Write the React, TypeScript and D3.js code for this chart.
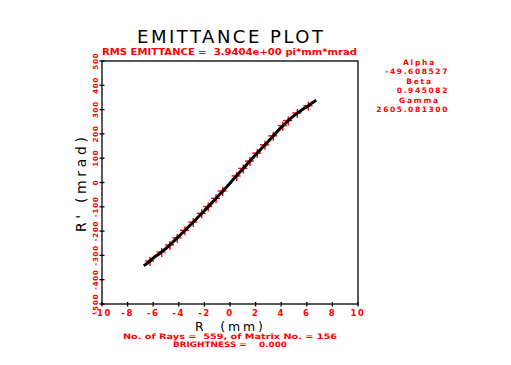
import React from "react";
import * as d3 from "d3";

// Ray distribution (R in mm, R' in mrad) read along the plotted band
const rayR = [-6.64, -6.3, -6.0, -5.5, -5.0, -4.5, -4.0, -3.5, -3.0, -2.5, -2.0, -1.5, -1.0, -0.5, 0, 0.5, 1.0, 1.5, 2.0, 2.5, 3.0, 3.5, 4.0, 4.5, 5.0, 5.5, 6.0, 6.3, 6.64];
const rayRp = [-339, -325, -311, -292, -271, -247, -222, -196, -170, -143, -116, -88, -60, -32, -3, 27, 56, 85, 114, 142, 170, 199, 227, 252, 275, 294, 312, 323, 335];

// Red marked rays
const markR = [-6.25, -5.34, -4.69, -4.12, -3.52, -2.87, -2.21, -1.7, -1.09, -0.57, 0.52, 1.04, 1.56, 2.13, 2.73, 3.38, 4.12, 4.55, 5.26, 6.12];
const markRp = [-323, -286, -257, -228, -197, -163, -127, -99, -65, -35, 27, 58, 88, 121, 155, 192, 234, 255, 286, 316];

const xTicks = [-10, -8, -6, -4, -2, 0, 2, 4, 6, 8, 10];
const yTicks = [-500, -400, -300, -200, -100, 0, 100, 200, 300, 400, 500];

const title = "EMITTANCE PLOT";
const subtitle = "RMS EMITTANCE =  3.9404e+00 pi*mm*mrad";
const twiss = [
  { label: "Alpha", value: "-49.608527" },
  { label: "Beta", value: "0.945082" },
  { label: "Gamma", value: "2605.081300" },
];
const footer1 = "No. of Rays =  559, of Matrix No. = 156";
const footer2 = "BRIGHTNESS =    0.000";

const RED = "#ff0000";
const FONT = "DejaVu Sans, sans-serif";

export default function App() {
  const left = 102, right = 358, top = 61, bottom = 304;
  const x = d3.scaleLinear().domain([-10, 10]).range([left, right]);
  const y = d3.scaleLinear().domain([-500, 500]).range([bottom, top]);
  const line = d3
    .line<number>()
    .x((_, i) => x(rayR[i]))
    .y((d) => y(d))
    .curve(d3.curveCatmullRom);

  return (
    <svg
      width={511}
      height={365}
      style={{ position: "absolute", left: 0, top: 0, background: "#fff" }}
      fontFamily={FONT}
    >
      <rect x={0} y={0} width={511} height={365} fill="#fff" />
      {/* title */}
      <text x={137} y={43} fontSize={18} textLength={186} lengthAdjust="spacing" fill="#000">
        {title}
      </text>
      <text x={102} y={55} fontSize={9.5} fontWeight="bold" textLength={255} lengthAdjust="spacingAndGlyphs" fill={RED} style={{ whiteSpace: "pre" }}>
        {subtitle}
      </text>

      {/* frame */}
      <rect x={left} y={top} width={right - left} height={bottom - top} fill="none" stroke="#000" strokeWidth={1.3} />

      {/* x ticks */}
      {xTicks.map((t) => (
        <g key={"x" + t}>
          <line x1={x(t)} x2={x(t)} y1={bottom - 2} y2={bottom + 2.5} stroke="#000" strokeWidth={1.3} />
          <text x={x(t)} y={316} fontSize={8.5} fontWeight="bold" textAnchor="middle" fill={RED} letterSpacing={1.5}>
            {t}
          </text>
        </g>
      ))}
      {/* y ticks */}
      {yTicks.map((t) => (
        <g key={"y" + t}>
          <line x1={left - 2.5} x2={left + 2.5} y1={y(t)} y2={y(t)} stroke="#000" strokeWidth={1.3} />
          <text
            transform={`translate(97.5,${y(t)}) rotate(-90)`}
            fontSize={7}
            fontWeight="bold"
            textAnchor="middle"
            fill={RED}
            letterSpacing={0.8}
          >
            {t}
          </text>
        </g>
      ))}

      {/* red markers */}
      {markR.map((r, i) => (
        <g key={"m" + i} stroke={RED} strokeWidth={1.4}>
          <line x1={x(r) - 5} x2={x(r) + 4} y1={y(markRp[i])} y2={y(markRp[i])} />
          <line x1={x(r)} x2={x(r)} y1={y(markRp[i]) - 4} y2={y(markRp[i]) + 5} />
        </g>
      ))}
      {/* ray band */}
      <path d={line(rayRp) || ""} fill="none" stroke="#000" strokeWidth={3} strokeLinecap="square" />

      {/* axis labels */}
      <text transform="translate(86,184.5) rotate(-90)" fontSize={14} textAnchor="middle" textLength={95} lengthAdjust="spacing" fill="#000">
        R' (mrad)
      </text>
      <text x={229} y={330.5} fontSize={12.5} textAnchor="middle" textLength={68} lengthAdjust="spacing" fill="#000" style={{ whiteSpace: "pre" }}>
        {"R  (mm)"}
      </text>
      <text x={123} y={339} fontSize={7.5} fontWeight="bold" textLength={214} lengthAdjust="spacingAndGlyphs" fill={RED} style={{ whiteSpace: "pre" }}>
        {footer1}
      </text>
      <text x={173} y={347} fontSize={7.5} fontWeight="bold" textLength={114} lengthAdjust="spacingAndGlyphs" fill={RED} style={{ whiteSpace: "pre" }}>
        {footer2}
      </text>

      {/* twiss parameters */}
      {twiss.map((p, i) => (
        <g key={p.label}>
          <text x={419.5} y={64.5 + i * 19} fontSize={7.5} fontWeight="bold" textAnchor="middle" letterSpacing={1.8} fill={RED}>
            {p.label}
          </text>
          <text x={449} y={74 + i * 19} fontSize={7.5} fontWeight="bold" textAnchor="end" letterSpacing={1.6} fill={RED}>
            {p.value}
          </text>
        </g>
      ))}
    </svg>
  );
}
